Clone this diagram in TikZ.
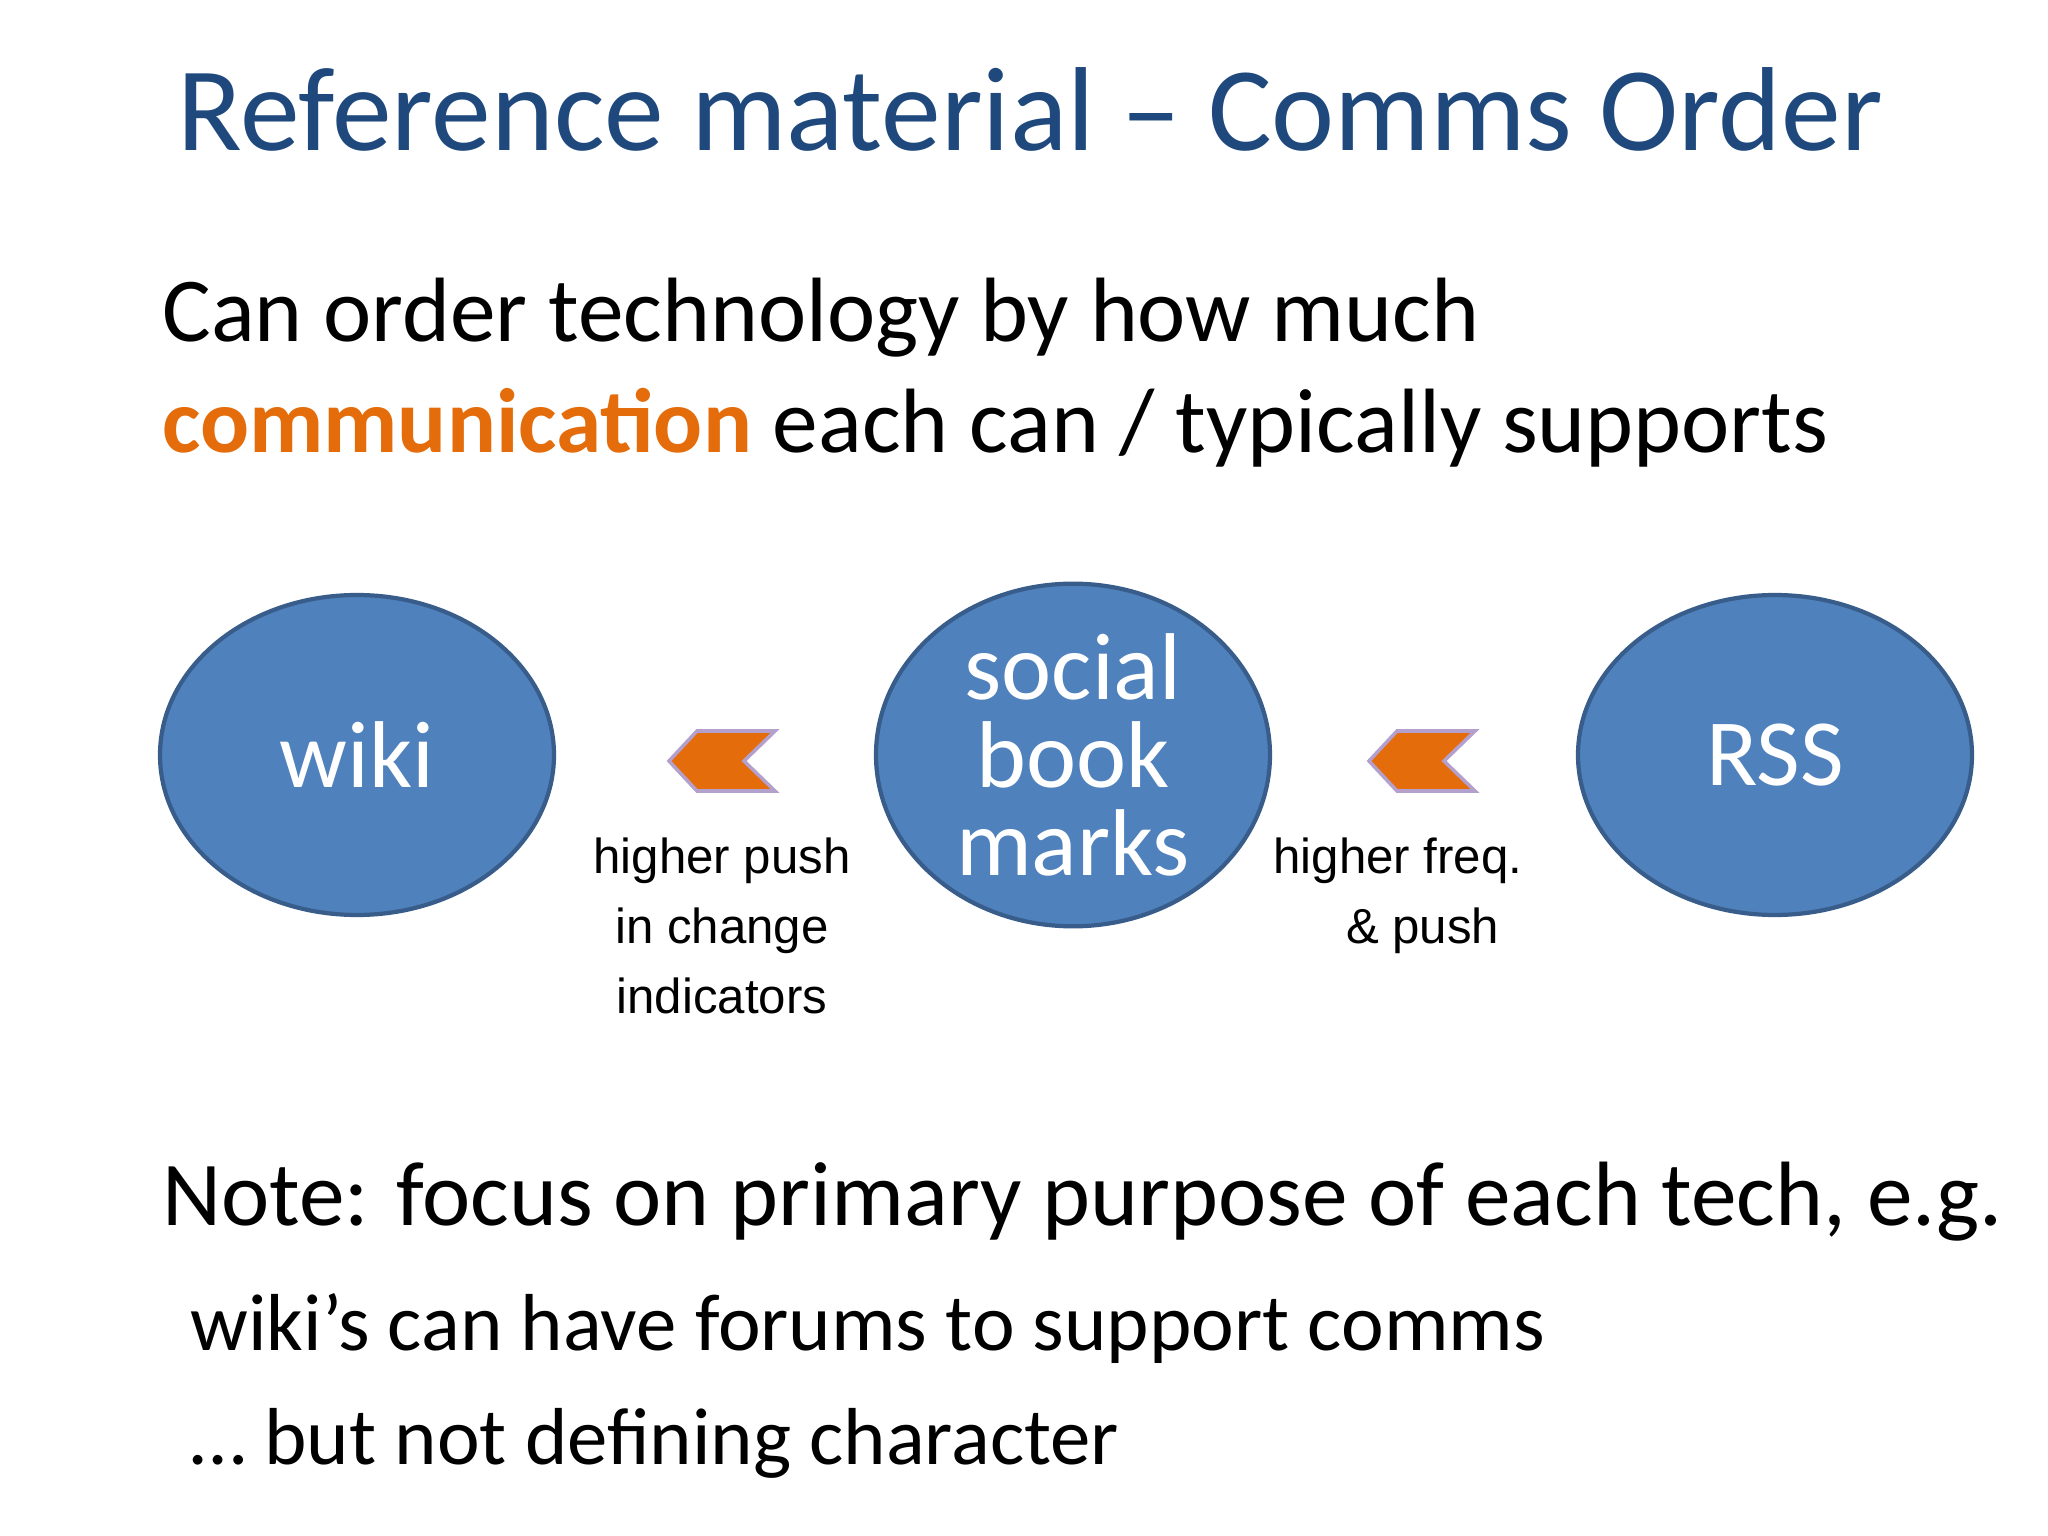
\documentclass[tikz,border=0pt]{standalone}
\usepackage{fontspec}
\setmainfont{Carlito}
\newfontfamily\labelfont{Liberation Sans}
\usetikzlibrary{shapes.geometric}
\definecolor{titleblue}{RGB}{31,73,125}
\definecolor{ellfill}{RGB}{79,129,189}
\definecolor{elldraw}{RGB}{56,93,138}
\definecolor{chevorange}{RGB}{228,108,10}
\definecolor{chevedge}{RGB}{180,160,205}
\definecolor{commorange}{RGB}{228,108,10}
\tikzset{
  tech/.style={ellipse, fill=ellfill, draw=elldraw, line width=1.2pt,
    minimum width=3.94cm, minimum height=3.2cm, text=white,
    font=\fontsize{27}{25}\selectfont, align=center, inner sep=0pt},
  note/.style={anchor=base west, font=\fontsize{26}{30}\selectfont},
  why/.style={font=\labelfont\fontsize{14}{20}\selectfont, align=center}
}
\newcommand{\chevron}[1]{%
  \draw[fill=chevorange, draw=chevedge, line width=1pt]
    ($(#1)+(-0.53,0)$) -- ($(#1)+(-0.25,0.3)$) -- ($(#1)+(0.53,0.3)$)
    -- ($(#1)+(0.22,0)$) -- ($(#1)+(0.53,-0.3)$) -- ($(#1)+(-0.25,-0.3)$) -- cycle;}
\usetikzlibrary{calc}
\begin{document}
\begin{tikzpicture}[x=1cm,y=-1cm]
    \useasboundingbox[fill=white] (0,0) rectangle (20.48,15.36);
    % Title
    \node[anchor=base, text=titleblue, font=\fontsize{34}{40}\selectfont] (title) at (10.3,1.51) {Reference material -- Comms Order};
    % Intro lines
    \node[note] (intro1) at (1.5,3.42) {Can order technology by how much};
    \node[note] (intro2) at (1.5,4.53) {\textcolor{commorange}{\textbf{communication}} each can / typically supports};
    % Technologies
    \node[tech] (wiki) at (3.57,7.55) {wiki};
    \node[tech] (social) at (10.73,7.55) {social\\book\\marks};
    \node[tech] (rss) at (17.75,7.55) {RSS};
    % Chevrons between them
    \coordinate (chevA) at (7.22,7.61);
    \coordinate (chevB) at (14.22,7.61);
    \chevron{chevA}
    \chevron{chevB}
    \node[why, anchor=north] (whyA) at (7.22,8.25) {higher push\\in change\\indicators};
    \node[why, anchor=north] (whyB) at (13.98,8.25) {higher freq.\\\quad \& push};
    % Note
    \node[note] (note1) at (1.5,12.25) {Note: focus on primary purpose of each tech, e.g.};
    \node[note, font=\fontsize{23}{28}\selectfont] (note2) at (1.78,13.5) {wiki’s can have forums to support comms};
    \node[note, font=\fontsize{23}{28}\selectfont] (note3) at (1.78,14.64) {… but not defining character};
\end{tikzpicture}
\end{document}
